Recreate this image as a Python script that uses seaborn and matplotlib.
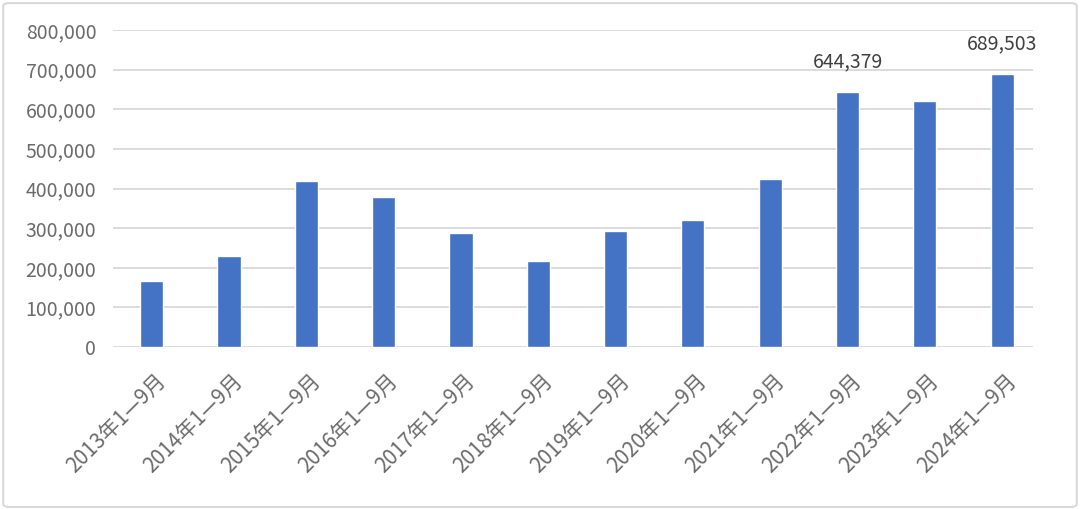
import matplotlib
matplotlib.use("Agg")
import matplotlib.pyplot as plt
import matplotlib.transforms as mtransforms
import seaborn as sns
import pandas as pd
from matplotlib.patches import FancyBboxPatch
from matplotlib.ticker import FuncFormatter

periods = ["2013年1—9月", "2014年1—9月", "2015年1—9月", "2016年1—9月",
           "2017年1—9月", "2018年1—9月", "2019年1—9月", "2020年1—9月",
           "2021年1—9月", "2022年1—9月", "2023年1—9月", "2024年1—9月"]
values = [168000, 230000, 418000, 378000, 289000, 217000,
          293000, 322000, 424000, 644379, 621000, 689503]
labelled = ["2022年1—9月", "2024年1—9月"]

df = pd.DataFrame({"period": periods, "value": values})

sns.set_theme(style="white")
plt.rcParams['font.family'] = ['Noto Sans CJK SC', 'DejaVu Sans']

fig = plt.figure(figsize=(10.8, 5.09), dpi=100)
ax = fig.add_axes([0.1046, 0.318, 0.852, 0.623])

sns.barplot(data=df, x="period", y="value", color="#4472c4", width=0.3,
            saturation=1, ax=ax, zorder=3)

ax.set_ylim(0, 800000)
ax.set_yticks(range(0, 800001, 100000))
ax.yaxis.set_major_formatter(FuncFormatter(lambda v, p: f"{int(v):,}"))
ax.grid(axis="y", color="#d9d9d9", linewidth=1.3, zorder=0)
ax.set_axisbelow(True)
for s in ax.spines.values():
    s.set_visible(False)
ax.set_xlabel("")
ax.set_ylabel("")
ax.tick_params(axis="both", length=0, colors="#6b6b6b", labelsize=14)
ax.tick_params(axis="y", pad=12)
ax.tick_params(axis="x", pad=16, labelsize=15)
ax.set_xlim(-0.5, len(periods) - 0.6)

shift = mtransforms.ScaledTranslation(3 / 100, 0, fig.dpi_scale_trans)
for lbl in ax.get_xticklabels():
    lbl.set_rotation(45)
    lbl.set_ha("right")
    lbl.set_rotation_mode("anchor")
    lbl.set_transform(lbl.get_transform() + shift)

for i, (p, v) in enumerate(zip(periods, values)):
    if p in labelled:
        ax.annotate(f"{v:,}", (i, v), xytext=(0, 14), textcoords="offset points",
                    ha="center", va="bottom", fontsize=14, color="#404040")

frame = FancyBboxPatch((0.003, 0.004), 0.994, 0.99, boxstyle="round,pad=0,rounding_size=0.006",
                       transform=fig.transFigure, fill=False, edgecolor="#d9d9d9", linewidth=1.5)
fig.patches.append(frame)

fig.savefig("out.png", dpi=100)
